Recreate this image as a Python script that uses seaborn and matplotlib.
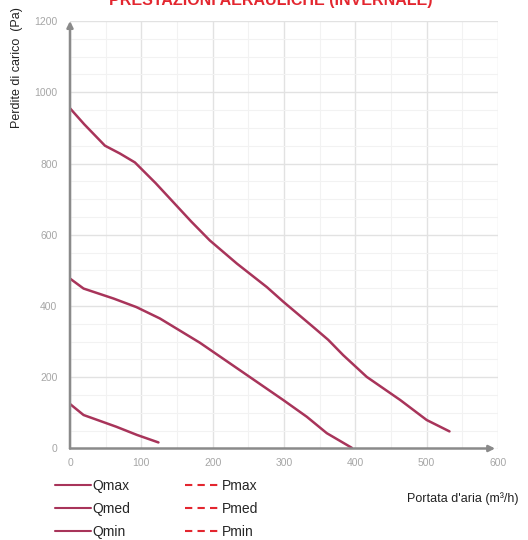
import matplotlib
matplotlib.use("Agg")
import matplotlib.pyplot as plt
from matplotlib.lines import Line2D
from matplotlib.ticker import MultipleLocator
import pandas as pd
import seaborn as sns

# Curve (portata m3/h, perdite di carico Pa)
qmax_x = [0, 20, 49, 70, 91, 120, 145, 170, 196, 234, 276, 299, 341, 362, 383, 416, 463, 500, 532]
qmax_y = [955, 910, 850, 828, 803, 745, 691, 637, 584, 519, 453, 412, 341, 305, 262, 201, 136, 80, 48]
qmed_x = [0, 19, 61, 93, 126, 182, 238, 299, 332, 360, 395]
qmed_y = [477, 449, 421, 397, 365, 297, 220, 136, 89, 43, 2]
qmin_x = [0, 19, 65, 94, 124]
qmin_y = [125, 94, 61, 38, 17]

x_ticks = [0, 100, 200, 300, 400, 500, 600]
y_ticks = [0, 200, 400, 600, 800, 1000, 1200]

col_q = "#a8345a"
col_p = "#e3262f"

sns.set_theme(style="white")
plt.rcParams["font.family"] = ["Liberation Sans", "DejaVu Sans"]

df = pd.concat([
    pd.DataFrame({"x": qmax_x, "y": qmax_y, "serie": "Qmax"}),
    pd.DataFrame({"x": qmed_x, "y": qmed_y, "serie": "Qmed"}),
    pd.DataFrame({"x": qmin_x, "y": qmin_y, "serie": "Qmin"}),
])

fig = plt.figure(figsize=(5.28, 5.40), dpi=100)
ax = fig.add_axes([70 / 528, 91.5 / 540, 428 / 528, 427.5 / 540])

sns.lineplot(data=df, x="x", y="y", hue="serie", units="serie", estimator=None,
             palette=[col_q] * 3, linewidth=1.8, sort=False, legend=False, ax=ax)

ax.set_xlim(0, 600)
ax.set_ylim(0, 1200)
ax.set_xticks(x_ticks)
ax.set_yticks(y_ticks)
ax.xaxis.set_minor_locator(MultipleLocator(50))
ax.yaxis.set_minor_locator(MultipleLocator(50))
ax.grid(which="major", color="#e2e2e2", linewidth=1.0)
ax.grid(which="minor", color="#f2f2f2", linewidth=0.8)
ax.set_axisbelow(True)
ax.tick_params(which="both", length=0, labelsize=7.5, colors="#a6a6a6")
ax.tick_params(axis="y", pad=9)
ax.tick_params(axis="x", pad=7)
ax.set_xlabel("")
ax.set_ylabel("")
for s in ["top", "right", "left", "bottom"]:
    ax.spines[s].set_visible(False)

# assi con freccia
ax.annotate("", xy=(596, 0), xytext=(0, 0), xycoords="data",
            arrowprops=dict(arrowstyle="-|>", color="#8a8a8a", lw=1.8,
                            mutation_scale=9, shrinkA=0, shrinkB=0),
            annotation_clip=False)
ax.annotate("", xy=(0, 1200), xytext=(0, 0), xycoords="data",
            arrowprops=dict(arrowstyle="-|>", color="#8a8a8a", lw=1.8,
                            mutation_scale=9, shrinkA=0, shrinkB=0),
            annotation_clip=False)

fig.text(0.513, 1 - 5 / 540, "PRESTAZIONI AERAULICHE (INVERNALE)", color=col_p,
         fontsize=11.5, fontweight="bold", ha="center", va="baseline")
fig.text(17 / 528, 1 - 68 / 540, "Perdite di carico  (Pa)", rotation=90,
         fontsize=9, color="#222222", ha="center", va="center")
fig.text(407 / 528, 1 - 499 / 540, "Portata d'aria (m³/h)", fontsize=9,
         color="#222222", ha="left", va="center")

handles = [Line2D([], [], color=col_q, lw=1.5, ls="-") for _ in range(3)]
handles += [Line2D([], [], color=col_p, lw=1.5, ls=(0, (3.5, 2.5))) for _ in range(3)]
labels = ["Qmax", "Qmed", "Qmin", "Pmax", "Pmed", "Pmin"]
fig.legend(handles, labels, loc="upper left", bbox_to_anchor=(55 / 528, 1 - 479 / 540),
           ncol=2, frameon=False, fontsize=10, handlelength=2.6, handletextpad=0.1,
           columnspacing=3.9, labelspacing=0.66, borderpad=0, borderaxespad=0)

fig.savefig("out.png", dpi=100)
